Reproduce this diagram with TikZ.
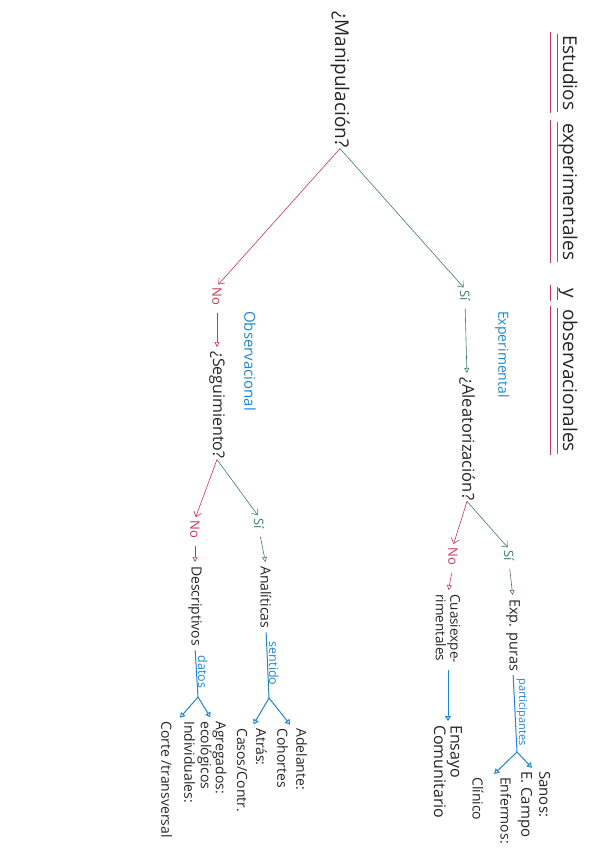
\documentclass[tikz,border=0pt]{standalone}
\usepackage{fontspec}
\setmainfont{Open Sans}
\usetikzlibrary{arrows.meta}
\definecolor{cred}{HTML}{C8375A}
\definecolor{cgreen}{HTML}{3F7D6C}
\definecolor{cblue}{HTML}{2088CC}
\tikzset{
  txt/.style={rotate=-90, anchor=west, inner sep=1pt, align=left, text=black!85},
  lbl/.style={txt, text=cblue},
  gtx/.style={txt, text=cgreen},
  rtx/.style={txt, text=cred},
  glong/.style={draw=cgreen, line width=0.6pt, -{Straight Barb[length=5pt,width=8pt]}, shorten >=2pt},
  rlong/.style={draw=cred, line width=0.6pt, -{Straight Barb[length=5pt,width=8pt]}, shorten >=2pt},
  gsh/.style={draw=cgreen, line width=0.6pt, -{Triangle[open,length=5pt,width=5pt]}, shorten <=7pt, shorten >=3pt},
  rsh/.style={draw=cred, line width=0.6pt, -{Triangle[open,length=5pt,width=5pt]}, shorten <=7pt, shorten >=3pt},
  bln/.style={draw=cblue, line width=1pt},
  barr/.style={draw=cblue, line width=1pt, -{Triangle[open,length=5pt,width=6pt]}, shorten >=3pt},
  ul/.style={draw=cred, line width=0.7pt}
}
\begin{document}
\begin{tikzpicture}[x=1pt,y=-1pt]
\path[use as bounding box, fill=white] (0,0) rectangle (600,848);

% title
\begin{scope}[every node/.style={txt, anchor=base west, inner sep=0pt, font=\fontsize{19}{21}\selectfont}]
\node (t1) at (563,35) {Estudios};
\node (t2) at (563,123) {experimentales};
\node (t3) at (563,288) {y};
\node (t4) at (563,309) {observacionales};
\end{scope}
\foreach \w in {t1,t2,t3,t4}{
  \draw[ul] ([xshift=-13pt,yshift=3pt]\w.base west) -- ([xshift=-13pt,yshift=-3pt]\w.base east);
  \draw[ul] ([xshift=-6pt,yshift=1pt]\w.base west) -- ([xshift=-6pt,yshift=-2pt]\w.base east);
}

% nodes
\node[txt, font=\fontsize{19}{21}\selectfont] (manip) at (340,10) {¿Manipulación?};
\node[gtx, font=\fontsize{13}{15}\selectfont] (si1) at (465,289) {Sí};
\node[lbl, font=\fontsize{14}{16}\selectfont] (exper) at (502,310) {Experimental};
\node[txt, font=\fontsize{16.5}{18}\selectfont] (alea) at (467,376) {¿Aleatorización?};
\node[gtx, font=\fontsize{13}{15}\selectfont] (si2) at (509,549) {Sí};
\node[rtx, font=\fontsize{13}{15}\selectfont] (no2) at (453,546) {No};
\node[txt, font=\fontsize{14.5}{16}\selectfont] (exp) at (513,598) {Exp. puras};
\node[txt, font=\fontsize{13.5}{13}\selectfont] (cuasi) at (448,593) {Cuasiexpe-\\rimentales};
\node[txt, font=\fontsize{16}{15}\selectfont] (ensayo) at (448,724) {Ensayo\\Comunitario};
\node[txt, font=\fontsize{15}{18}\selectfont] (sanos) at (534,770) {Sanos:\\E. Campo};
\node[txt, font=\fontsize{14}{16}\selectfont] (enf) at (492,776) {Enfermos:\\[12pt]Clínico};

\node[rtx, font=\fontsize{13}{15}\selectfont] (no1) at (217,286) {No};
\node[lbl, font=\fontsize{15}{17}\selectfont] (obs) at (250,310) {Observacional};
\node[txt, font=\fontsize{16}{18}\selectfont] (seg) at (217,350) {¿Seguimiento?};
\node[gtx, font=\fontsize{13}{15}\selectfont] (si3) at (259,517) {Sí};
\node[rtx, font=\fontsize{13}{15}\selectfont] (no3) at (195,519) {No};
\node[txt, font=\fontsize{14}{16}\selectfont] (anal) at (266,565) {Analíticas};
\node[txt, font=\fontsize{14}{16}\selectfont] (desc) at (195,565) {Descriptivos};
\node[txt, font=\fontsize{14}{19}\selectfont] (adel) at (292,727) {Adelante:\\Cohortes};
\node[txt, font=\fontsize{14}{19}\selectfont] (atras) at (252,727) {Atrás:\\Casos/Contr.};
\node[txt, font=\fontsize{14}{15}\selectfont] (agr) at (212,720) {Agregados:\\ecológicos};
\node[txt, font=\fontsize{14}{16}\selectfont] (ind) at (178,720) {Individuales:\\[7pt]Corte /transversal};

\coordinate (sp1) at (517,752);
\coordinate (sp2) at (269,698);
\coordinate (sp3) at (198,697);

% connectors
\draw[glong] (manip.east) -- (si1.west);
\draw[rlong] (manip.east) -- (no1.west);
\draw[gsh] (si1.east) -- (alea.west);
\draw[rsh] (no1.east) -- (seg.west);
\draw[glong] (alea.east) -- (si2.west);
\draw[rlong] (alea.east) -- (no2.west);
\draw[gsh] (si2.east) -- (exp.west);
\draw[rsh] (no2.east) -- (cuasi.west);
\draw[barr, shorten <=6pt] (cuasi.east) -- (ensayo.west);
\draw[bln, shorten <=3pt] (exp.east) -- node[lbl, anchor=south, font=\fontsize{11}{13}\selectfont] {participantes} (sp1);
\draw[barr] (sp1) -- (sanos.west);
\draw[barr] (sp1) -- (enf.west);

\draw[glong] (seg.east) -- (si3.west);
\draw[rlong] (seg.east) -- (no3.west);
\draw[gsh] (si3.east) -- (anal.west);
\draw[rsh] (no3.east) -- (desc.west);
\draw[bln, shorten <=3pt] (anal.east) -- node[lbl, anchor=south, font=\fontsize{12.5}{14}\selectfont] {sentido} (sp2);
\draw[barr] (sp2) -- (adel.west);
\draw[barr] (sp2) -- (atras.west);
\draw[bln, shorten <=3pt] (desc.east) -- node[lbl, anchor=south, font=\fontsize{12.5}{14}\selectfont] {datos} (sp3);
\draw[barr] (sp3) -- (agr.west);
\draw[barr] (sp3) -- (ind.west);
\end{tikzpicture}
\end{document}
